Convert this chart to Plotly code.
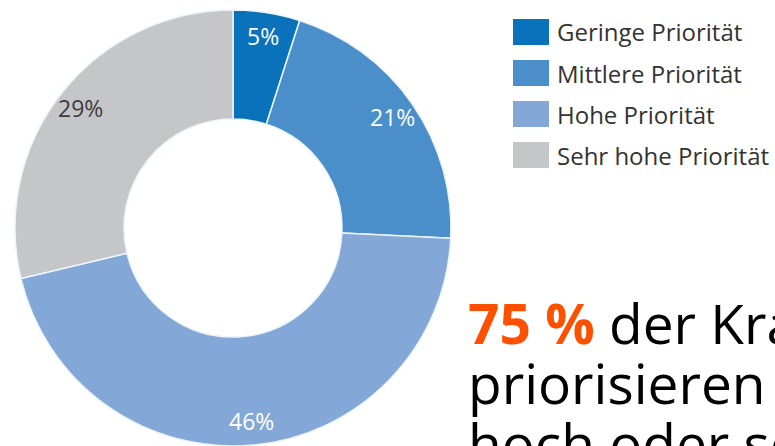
import math
import plotly.graph_objects as go

# ---- data ----
categories = ["Geringe Priorität", "Mittlere Priorität", "Hohe Priorität", "Sehr hohe Priorität"]
values = [5, 21, 46, 29]
value_labels = ["5%", "21%", "46%", "29%"]
colors = ["#0a72bb", "#4a8eca", "#83a8d7", "#c5c6c8"]
label_colors = ["#ffffff", "#ffffff", "#ffffff", "#3c3c3c"]

headline_highlight = "75 %"
headline_lines = ["der Krankenhäuser", "priorisieren Cybersicherheit", "hoch oder sehr hoch"]

# ---- layout geometry (pixels) ----
W, H = 775, 446
cx, cy = 233, 228          # donut centre (from top)
R = 218                    # outer radius
label_r = 0.89 * R

fig = go.Figure()
fig.add_trace(go.Pie(
    labels=categories,
    values=values,
    hole=0.5,
    sort=False,
    direction="clockwise",
    rotation=0,
    marker=dict(colors=colors, line=dict(color="#eef4fb", width=1.5)),
    textinfo="none",
    hoverinfo="label+percent",
    showlegend=False,
    domain=dict(x=[(cx - R) / W, (cx + R) / W], y=[(H - cy - R) / H, (H - cy + R) / H]),
))

annotations = []
shapes = []

# value labels placed at each slice's mid-angle
total = sum(values)
cum = 0
for v, t, c in zip(values, value_labels, label_colors):
    mid = (cum + v / 2) / total * 2 * math.pi
    cum += v
    px = cx + label_r * math.sin(mid)
    py = cy - label_r * math.cos(mid)
    annotations.append(dict(
        x=px / W, y=1 - py / H, xref="paper", yref="paper",
        text=t, showarrow=False, xanchor="center", yanchor="middle",
        font=dict(family="Open Sans", size=23, color=c),
    ))

# custom legend
leg_x0, leg_x1 = 513, 549
leg_y0, leg_dy, leg_h = 32, 41, 26
for i, (name, col) in enumerate(zip(categories, colors)):
    yc = leg_y0 + i * leg_dy
    shapes.append(dict(
        type="rect", xref="paper", yref="paper",
        x0=leg_x0 / W, x1=leg_x1 / W,
        y0=1 - (yc - leg_h / 2) / H, y1=1 - (yc + leg_h / 2) / H,
        fillcolor=col, line=dict(width=0),
    ))
    annotations.append(dict(
        x=555 / W, y=1 - yc / H, xref="paper", yref="paper",
        text=name, showarrow=False, xanchor="left", yanchor="middle",
        font=dict(family="Open Sans", size=24, color="#333333"),
    ))

# headline text (clipped at the right edge, as in the original)
line_y = [322, 382, 442]
texts = [
    f"<b><span style='color:#ff5000'>{headline_highlight}</span></b> {headline_lines[0]}",
    headline_lines[1],
    headline_lines[2],
]
for t, yc in zip(texts, line_y):
    annotations.append(dict(
        x=466 / W, y=1 - yc / H, xref="paper", yref="paper",
        text=t, showarrow=False, xanchor="left", yanchor="middle",
        font=dict(family="Open Sans", size=55, color="#000000"),
    ))

fig.update_layout(
    width=W, height=H,
    margin=dict(l=0, r=0, t=0, b=0),
    paper_bgcolor="white",
    plot_bgcolor="white",
    annotations=annotations,
    shapes=shapes,
)

fig.write_html(
    "out.html",
    config={"displayModeBar": False},
    post_script="document.body.style.margin='0';document.body.style.overflow='hidden';",
)
